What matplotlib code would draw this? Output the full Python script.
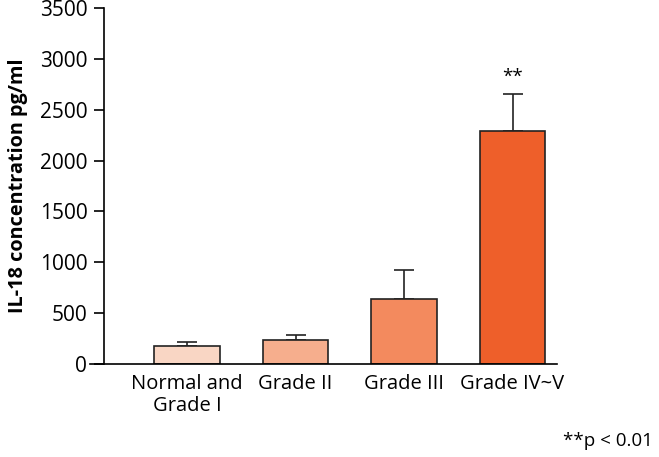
import numpy as np
import matplotlib.pyplot as plt

plt.rcParams['font.family'] = ['Open Sans', 'DejaVu Sans']

groups = ['Normal and\nGrade I', 'Grade II', 'Grade III', 'Grade IV~V']
means = [177, 233, 639, 2293]
errors = [42, 49, 282, 359]
colors = ['#F9D6C4', '#F6AE8D', '#F38A5E', '#EE5F2A']
yticks = [0, 500, 1000, 1500, 2000, 2500, 3000, 3500]

fig = plt.figure(figsize=(6.59, 4.57), dpi=100)
ax = fig.add_axes([90 / 659, 93 / 457, 467 / 659, 356 / 457])

x = np.arange(len(groups))
ax.bar(x, means, width=0.6, color=colors, edgecolor='#222222', linewidth=1.2, zorder=2)
ax.errorbar(x, means, yerr=[np.zeros(len(errors)), errors], fmt='none',
            ecolor='#222222', elinewidth=1.2, capsize=7, capthick=1.2, zorder=1)

# significance mark
ax.text(x[3], means[3] + errors[3] + 80, '**', ha='center', va='bottom', fontsize=13.5)

ax.set_xlim(-0.894, 3.41)
ax.set_ylim(0, 3500)
ax.set_yticks(yticks)
ax.set_xticks(x)
ax.set_xticklabels(groups, fontsize=14.5, linespacing=1.15)
ax.tick_params(axis='x', length=0, pad=7)
ax.tick_params(axis='y', labelsize=15, length=7, width=1.2, pad=5)
ax.spines['left'].set_position(('data', -0.765))
ax.spines['top'].set_visible(False)
ax.spines['right'].set_visible(False)
ax.spines['left'].set_linewidth(1.2)
ax.spines['bottom'].set_linewidth(1.2)
ax.set_ylabel('IL-18 concentration pg/ml', fontsize=14.3, fontweight='bold', labelpad=8)

fig.text(653 / 659, 1 - 441 / 457, '**p < 0.01', ha='right', va='center', fontsize=13.5)

fig.savefig('out.png', dpi=100)
